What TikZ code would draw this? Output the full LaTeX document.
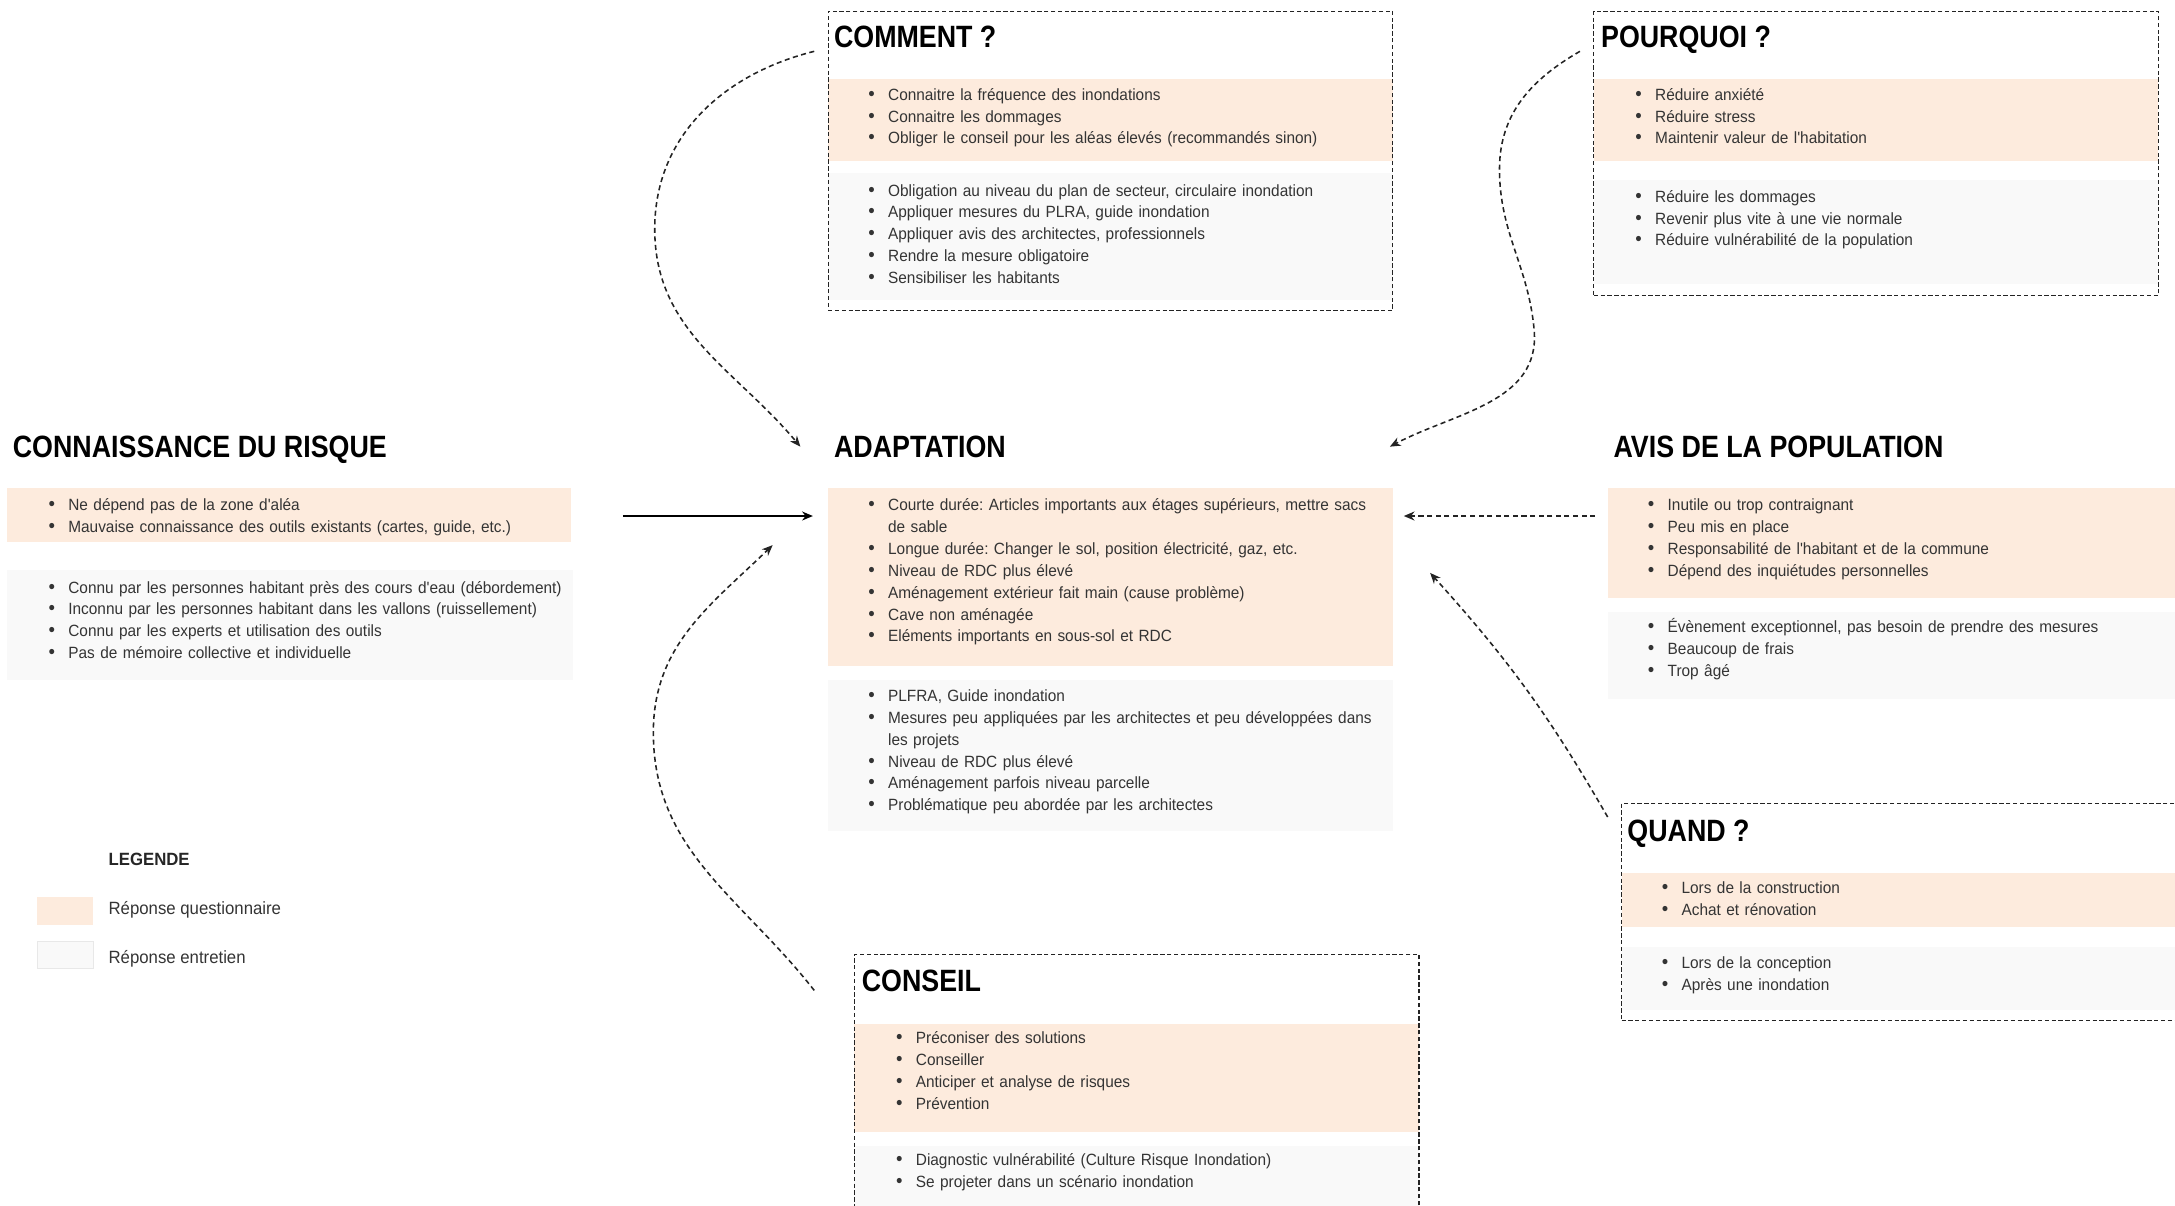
\documentclass[tikz,border=0pt]{standalone}
\usepackage{fontspec}
\setmainfont{Liberation Sans}
\newfontfamily\bodyfont{Liberation Sans}[FakeStretch=0.945]
\newfontfamily\headfont{Liberation Sans}[FakeStretch=0.87]
\usetikzlibrary{arrows.meta}
\frenchspacing

\definecolor{qfill}{RGB}{253,235,221}
\definecolor{efill}{RGB}{249,249,249}
\definecolor{eline}{RGB}{232,232,232}
\definecolor{ink}{RGB}{52,52,52}
\definecolor{frame}{RGB}{35,35,35}

% hanging bullet in front of a list line
\newcommand{\bitem}{\makebox[0pt][r]{{\fontsize{10}{10}\selectfont\textbullet}\hspace{0.24cm}}}
% filled band: name, style, x1, y1, x2, y2
\newcommand{\bandnode}[6]{%
  \node[#2, minimum width={(#5-(#3))*0.025cm}, minimum height={(#6-(#4))*0.025cm}] (#1) at (#3,#4) {};}

\begin{document}
\begin{tikzpicture}[x=0.025cm, y=-0.025cm,
  band/.style={inner sep=0pt, outer sep=0pt, anchor=north west},
  qband/.style={band, fill=qfill},
  eband/.style={band, fill=efill},
  dashbox/.style={band, draw=frame, line width=0.55pt, dash pattern=on 2.2pt off 1.3pt},
  head/.style={anchor=base west, inner sep=0pt, text=black,
    font=\headfont\bfseries\fontsize{15.8}{18}\selectfont},
  items/.style={anchor=base west, inner sep=0pt, text width=11cm, align=left, text=ink,
    font=\bodyfont\fontsize{8.35}{11.2}\selectfont},
  legtext/.style={anchor=base west, inner sep=0pt, text=ink,
    font=\bodyfont\fontsize{9.1}{11}\selectfont},
  link/.style={draw=frame, line width=0.8pt, dash pattern=on 2.6pt off 1.8pt,
    -{Stealth[length=5.5pt,width=4.6pt]}},
  solidlink/.style={draw=black, line width=0.9pt, -{Stealth[length=5.5pt,width=4.6pt]}}]

\useasboundingbox (0,0) rectangle (1568,869);

% ---------- coloured bands ----------
\bandnode{risk-qb}{qband}{5}{352}{412}{391}
\bandnode{risk-eb}{eband}{5}{411}{413}{490}
\bandnode{adapt-qb}{qband}{597}{352}{1004}{480}
\bandnode{adapt-eb}{eband}{597}{490}{1004}{599}
\bandnode{avis-qb}{qband}{1159}{352}{1570}{431}
\bandnode{avis-eb}{eband}{1159}{441}{1570}{504}
\bandnode{how-qb}{qband}{597}{57}{1004}{116}
\bandnode{how-eb}{eband}{597}{125}{1004}{216}
\bandnode{why-qb}{qband}{1149}{57}{1556}{116}
\bandnode{why-eb}{eband}{1149}{130}{1556}{205}
\bandnode{when-qb}{qband}{1169}{629}{1570}{668}
\bandnode{when-eb}{eband}{1169}{683}{1570}{728}
\bandnode{advice-qb}{qband}{616}{738}{1023}{816}
\bandnode{advice-eb}{eband}{616}{826}{1023}{875}

% ---------- dashed frames ----------
\bandnode{how-box}{dashbox}{597}{8}{1004}{224}
\bandnode{why-box}{dashbox}{1149}{8}{1556}{213}
\bandnode{when-box}{dashbox}{1169}{579}{1585}{736}
\bandnode{advice-box}{dashbox}{616}{688}{1023}{885}

% ---------- headings ----------
\node[head] (risk-title)   at (9,330)    {CONNAISSANCE DU RISQUE};
\node[head] (adapt-title)  at (601,330)  {ADAPTATION};
\node[head] (avis-title)   at (1163,330) {AVIS DE LA POPULATION};
\node[head] (how-title)    at (601,34)   {COMMENT ?};
\node[head] (why-title)    at (1154,34)  {POURQUOI ?};
\node[head] (when-title)   at (1173,607) {QUAND ?};
\node[head] (advice-title) at (621,715)  {CONSEIL};

% ---------- lists ----------
\node[items] (risk-q) at (49,367.8) {%
  \bitem Ne dépend pas de la zone d'aléa\\
  \bitem Mauvaise connaissance des outils existants (cartes, guide, etc.)};
\node[items] (risk-e) at (49,427.5) {%
  \bitem Connu par les personnes habitant près des cours d'eau (débordement)\\
  \bitem Inconnu par les personnes habitant dans les vallons (ruissellement)\\
  \bitem Connu par les experts et utilisation des outils\\
  \bitem Pas de mémoire collective et individuelle};

\node[items] (adapt-q) at (640,368.3) {%
  \bitem Courte durée: Articles importants aux étages supérieurs, mettre sacs\\
  de sable\\
  \bitem Longue durée: Changer le sol, position électricité, gaz, etc.\\
  \bitem Niveau de RDC plus élevé\\
  \bitem Aménagement extérieur fait main (cause problème)\\
  \bitem Cave non aménagée\\
  \bitem Eléments importants en sous-sol et RDC};
\node[items] (adapt-e) at (640,505.8) {%
  \bitem PLFRA, Guide inondation\\
  \bitem Mesures peu appliquées par les architectes et peu développées dans\\
  les projets\\
  \bitem Niveau de RDC plus élevé\\
  \bitem Aménagement parfois niveau parcelle\\
  \bitem Problématique peu abordée par les architectes};

\node[items] (avis-q) at (1202,368.3) {%
  \bitem Inutile ou trop contraignant\\
  \bitem Peu mis en place\\
  \bitem Responsabilité de l'habitant et de la commune\\
  \bitem Dépend des inquiétudes personnelles};
\node[items] (avis-e) at (1202,456.3) {%
  \bitem Évènement exceptionnel, pas besoin de prendre des mesures\\
  \bitem Beaucoup de frais\\
  \bitem Trop âgé};

\node[items] (how-q) at (640,72.3) {%
  \bitem Connaitre la fréquence des inondations\\
  \bitem Connaitre les dommages\\
  \bitem Obliger le conseil pour les aléas élevés (recommandés sinon)};
\node[items] (how-e) at (640,141.3) {%
  \bitem Obligation au niveau du plan de secteur, circulaire inondation\\
  \bitem Appliquer mesures du PLRA, guide inondation\\
  \bitem Appliquer avis des architectes, professionnels\\
  \bitem Rendre la mesure obligatoire\\
  \bitem Sensibiliser les habitants};

\node[items] (why-q) at (1193,72.3) {%
  \bitem Réduire anxiété\\
  \bitem Réduire stress\\
  \bitem Maintenir valeur de l'habitation};
\node[items] (why-e) at (1193,145.8) {%
  \bitem Réduire les dommages\\
  \bitem Revenir plus vite à une vie normale\\
  \bitem Réduire vulnérabilité de la population};

\node[items] (when-q) at (1212,644.3) {%
  \bitem Lors de la construction\\
  \bitem Achat et rénovation};
\node[items] (when-e) at (1212,698.3) {%
  \bitem Lors de la conception\\
  \bitem Après une inondation};

\node[items] (advice-q) at (660,752.3) {%
  \bitem Préconiser des solutions\\
  \bitem Conseiller\\
  \bitem Anticiper et analyse de risques\\
  \bitem Prévention};
\node[items] (advice-e) at (660,840.3) {%
  \bitem Diagnostic vulnérabilité (Culture Risque Inondation)\\
  \bitem Se projeter dans un scénario inondation};

% ---------- legend ----------
\node[legtext, font=\bodyfont\bfseries\fontsize{9.1}{11}\selectfont, text=black!85]
  (legend-title) at (78,624) {LEGENDE};
\bandnode{legend-qs}{qband}{27}{647}{67}{667}
\bandnode{legend-es}{eband, draw=eline, line width=0.4pt}{27}{679}{67}{698}
\node[legtext] (legend-qt) at (78,659.5) {Réponse questionnaire};
\node[legtext] (legend-et) at (78,694.5) {Réponse entretien};

% ---------- connectors ----------
\coordinate (risk-out)    at (449,372);
\coordinate (adapt-in-w)  at (586,372);
\coordinate (how-out)     at (587,37);
\coordinate (how-bend)    at (472,165);
\coordinate (adapt-in-nw) at (577,322);
\coordinate (why-out)     at (1139,37);
\coordinate (why-bend-a)  at (1081,122);
\coordinate (why-bend-b)  at (1106,238);
\coordinate (adapt-in-ne) at (1002,322);
\coordinate (avis-out)    at (1150,372);
\coordinate (adapt-in-e)  at (1012,372);
\coordinate (when-out)    at (1159,589);
\coordinate (adapt-in-se) at (1031,413);
\coordinate (advice-out)  at (587,714);
\coordinate (advice-bend) at (471,528);
\coordinate (adapt-in-sw) at (557,393);

\draw[solidlink] (risk-out) -- (adapt-in-w);
\draw[link] (how-out) to[out=194,in=90] (how-bend) to[out=-90,in=130] (adapt-in-nw);
\draw[link] (why-out) to[out=210,in=90] (why-bend-a) to[out=-90,in=95] (why-bend-b)
  to[out=-85,in=28] (adapt-in-ne);
\draw[link] (avis-out) -- (adapt-in-e);
\draw[link] (when-out) to[bend right=6] (adapt-in-se);
\draw[link] (advice-out) to[out=128,in=-90] (advice-bend) to[out=90,in=-136] (adapt-in-sw);

\end{tikzpicture}
\end{document}
